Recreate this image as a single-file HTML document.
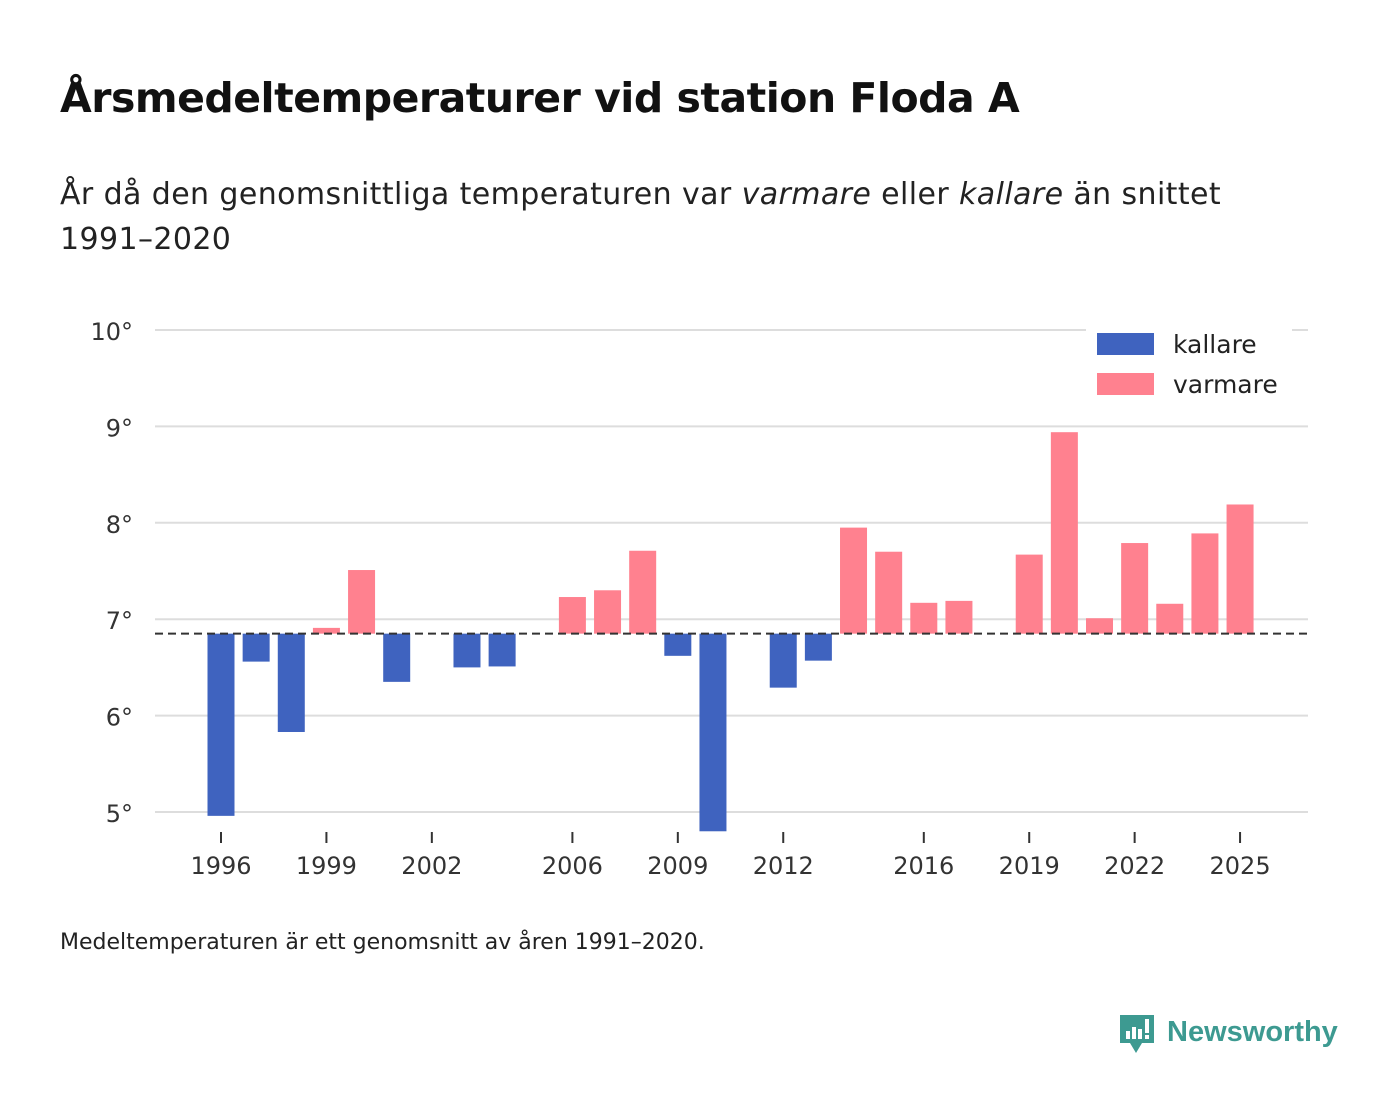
<!DOCTYPE html>
<html><head><meta charset="utf-8">
<style>
body{margin:0;background:#fff;font-family:"DejaVu Sans","Liberation Sans",sans-serif;color:#111;}
#wrap{position:relative;width:1400px;height:1116px;overflow:hidden;}
h1{position:absolute;left:60px;top:74px;margin:0;font-size:41px;font-weight:bold;letter-spacing:-0.5px;}
.sub{position:absolute;left:60px;top:172px;font-size:30px;line-height:45px;width:1200px;color:#222;letter-spacing:0.4px;}
.foot{position:absolute;left:60px;top:930px;font-size:22px;color:#222;}
svg text{font-family:"DejaVu Sans","Liberation Sans",sans-serif;}
</style></head><body>
<div id="wrap">
<h1>Årsmedeltemperaturer vid station Floda A</h1>
<div class="sub">År då den genomsnittliga temperaturen var <i>varmare</i> eller <i>kallare</i> än snittet 1991–2020</div>
<svg id="chart" width="1400" height="1116" style="position:absolute;left:0;top:0"></svg>
<div class="foot">Medeltemperaturen är ett genomsnitt av åren 1991–2020.</div>
<div style="position:absolute;left:1118px;top:1013px;">
<svg width="230" height="46"><path d="M2 2h34v28H24l-6 10-6-10H2z" fill="#3d9a91"/><rect x="8" y="18" width="4" height="8" fill="#fff"/><rect x="14" y="14" width="4" height="12" fill="#fff"/><rect x="20" y="16" width="4" height="10" fill="#fff"/><rect x="27" y="6" width="4" height="14" fill="#fff"/><rect x="27" y="22" width="4" height="4" fill="#fff"/>
<text x="49" y="28" font-size="29" font-weight="bold" fill="#3d9a91" style="font-family:'Liberation Sans',sans-serif">Newsworthy</text></svg></div>
</div>
<script>
const years=[1996,1997,1998,1999,2000,2001,2002,2003,2004,2005,2006,2007,2008,2009,2010,2011,2012,2013,2014,2015,2016,2017,2018,2019,2020,2021,2022,2023,2024,2025];
const temps=[4.96,6.56,5.83,6.91,7.51,6.35,null,6.50,6.51,null,7.23,7.30,7.71,6.62,4.80,null,6.29,6.57,7.95,7.70,7.17,7.19,null,7.67,8.94,7.01,7.79,7.16,7.89,8.19];
const mean=6.85;
const yTicks=[5,6,7,8,9,10];
const xTicks=[1996,1999,2002,2006,2009,2012,2016,2019,2022,2025];
const NS="http://www.w3.org/2000/svg";
const svg=document.getElementById('chart');
const x=yr=>221+(yr-1996)*35.14;
const y=v=>812-(v-5)*96.4;
function el(t,a){const e=document.createElementNS(NS,t);for(const k in a)e.setAttribute(k,a[k]);svg.appendChild(e);return e;}
yTicks.forEach(v=>{
 const g=el('line',{x1:155,x2:1308,y1:y(v),y2:y(v),stroke:'#ddd','stroke-width':2});
 
 
 const t=el('text',{x:133,y:y(v)+10,'text-anchor':'end','font-size':24,fill:'#333'});t.textContent=v+'°';
 
 
});
years.forEach((yr,i)=>{
 const v=temps[i];if(v===null)return;
 const top=Math.min(y(v),y(mean)),h=Math.abs(y(v)-y(mean));
 const r=el('rect',{x:x(yr)-13.5,y:top,width:27,height:h,fill:v<mean?'#3f63bf':'#ff818f'});
 
 
});
const ml=el('line',{x1:155,x2:1308,y1:y(mean),y2:y(mean),stroke:'#333','stroke-width':2,'stroke-dasharray':'8,5'});


xTicks.forEach(yr=>{
 const l=el('line',{x1:x(yr),x2:x(yr),y1:832,y2:843,stroke:'#333','stroke-width':2});
 
 
 const t=el('text',{x:x(yr),y:874,'text-anchor':'middle','font-size':24,fill:'#333'});t.textContent=yr;
 
 
});
const bg=el('rect',{x:1086,y:322,width:206,height:84,fill:'#fff'});


[['kallare','#3f63bf',333],['varmare','#ff818f',373]].forEach(([n,c,yy])=>{
 const r=el('rect',{x:1097,y:yy,width:57,height:22,fill:c});
 
 
 const t=el('text',{x:1173,y:yy+20,'font-size':25,fill:'#222'});t.textContent=n;
 
 
});
</script>
</body></html>
